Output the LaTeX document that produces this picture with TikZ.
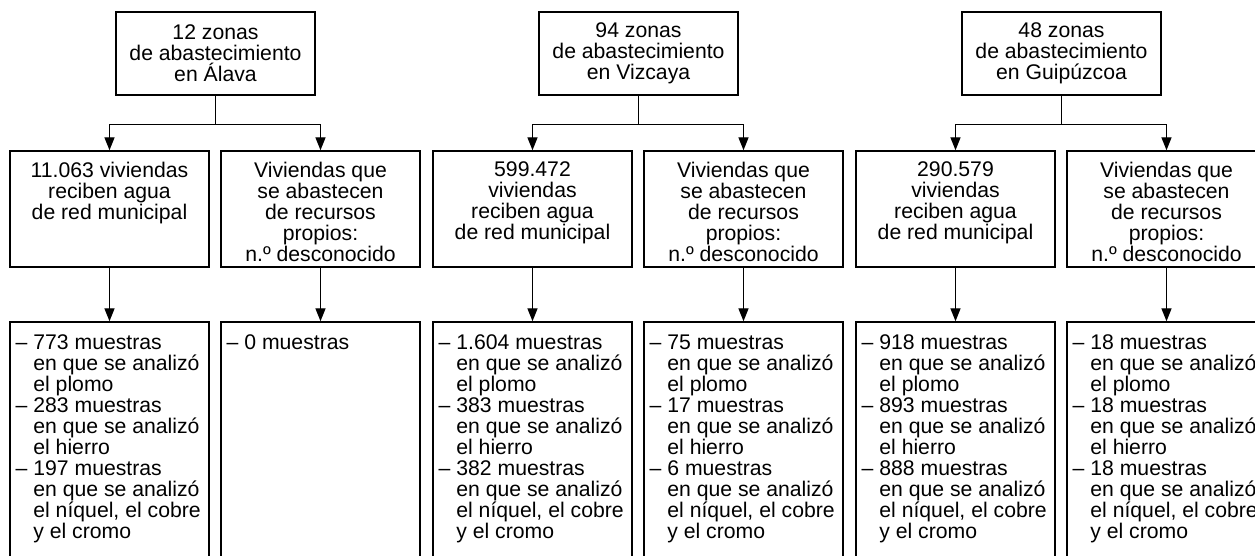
\documentclass[tikz,border=0pt]{standalone}
\usepackage{fontspec}
\setmainfont{Liberation Sans}
\usetikzlibrary{arrows.meta}
\newcommand{\sangria}{\phantom{– }}

\begin{document}
\begin{tikzpicture}[
		x=0.5pt, y=-0.5pt,
		font=\fontsize{10.6}{10.5}\selectfont,
		zona/.style={draw, line width=0.7pt, minimum width=99.5pt, minimum height=41.5pt, inner sep=0pt, align=center},
		vivienda/.style={draw, line width=0.7pt, minimum width=99.5pt, minimum height=58pt, inner sep=0pt},
		muestra/.style={draw, line width=0.7pt, minimum width=99.5pt, minimum height=149pt, inner sep=0pt},
		centrado/.style={inner sep=0pt, align=center, anchor=north},
		lista/.style={inner sep=0pt, align=left, anchor=north west},
		flecha/.style={->, line width=0.7pt, >={Triangle[length=6.5pt,width=5pt]}}
		]
		% Page frame (the lower boxes run off the page)
		\path[use as bounding box, clip] (0,0) rectangle (1255,556);
		
		% Alava
		\node[zona] (za) at (215.5,53.5) {12 zonas\\de abastecimiento\\en Álava};
		\node[vivienda] (va) at (109.5,209) {};
		\node[vivienda] (pa) at (320.5,209) {};
		\node[muestra] (ma) at (109.5,471) {};
		\node[muestra] (na) at (320.5,471) {};
		\node[centrado] (vat) at ([yshift=-5.5pt]va.north) {11.063 viviendas\\reciben agua\\de red municipal};
		\node[centrado] (pat) at ([yshift=-5.5pt]pa.north) {Viviendas que\\se abastecen\\de recursos\\propios:\\n.º desconocido};
		\node[lista] (mat) at ([xshift=3pt,yshift=-6.5pt]ma.north west) {– 773 muestras\\\sangria en que se analizó\\\sangria el plomo\\– 283 muestras\\\sangria en que se analizó\\\sangria el hierro\\– 197 muestras\\\sangria en que se analizó\\\sangria el níquel, el cobre\\\sangria y el cromo};
		\node[lista] (nat) at ([xshift=3pt,yshift=-6.5pt]na.north west) {– 0 muestras};
		\coordinate (ja) at ([yshift=-14.5pt]za.south);
		\draw[flecha] (za.south) -- (ja) -| (va.north);
		\draw[flecha] (za.south) -- (ja) -| (pa.north);
		\draw[flecha] (va.south) -- (ma.north);
		\draw[flecha] (pa.south) -- (na.north);
		
		% Vizcaya
		\node[zona] (zb) at (638.5,53.5) {94 zonas\\de abastecimiento\\en Vizcaya};
		\node[vivienda] (vb) at (532.5,209) {};
		\node[vivienda] (pb) at (743.5,209) {};
		\node[muestra] (mb) at (532.5,471) {};
		\node[muestra] (nb) at (743.5,471) {};
		\node[centrado] (vbt) at ([yshift=-5.5pt]vb.north) {599.472\\viviendas\\reciben agua\\de red municipal};
		\node[centrado] (pbt) at ([yshift=-5.5pt]pb.north) {Viviendas que\\se abastecen\\de recursos\\propios:\\n.º desconocido};
		\node[lista] (mbt) at ([xshift=3pt,yshift=-6.5pt]mb.north west) {– 1.604 muestras\\\sangria en que se analizó\\\sangria el plomo\\– 383 muestras\\\sangria en que se analizó\\\sangria el hierro\\– 382 muestras\\\sangria en que se analizó\\\sangria el níquel, el cobre\\\sangria y el cromo};
		\node[lista] (nbt) at ([xshift=3pt,yshift=-6.5pt]nb.north west) {– 75 muestras\\\sangria en que se analizó\\\sangria el plomo\\– 17 muestras\\\sangria en que se analizó\\\sangria el hierro\\– 6 muestras\\\sangria en que se analizó\\\sangria el níquel, el cobre\\\sangria y el cromo};
		\coordinate (jb) at ([yshift=-14.5pt]zb.south);
		\draw[flecha] (zb.south) -- (jb) -| (vb.north);
		\draw[flecha] (zb.south) -- (jb) -| (pb.north);
		\draw[flecha] (vb.south) -- (mb.north);
		\draw[flecha] (pb.south) -- (nb.north);
		
		% Guipuzcoa
		\node[zona] (zc) at (1061.5,53.5) {48 zonas\\de abastecimiento\\en Guipúzcoa};
		\node[vivienda] (vc) at (955.5,209) {};
		\node[vivienda] (pc) at (1166.5,209) {};
		\node[muestra] (mc) at (955.5,471) {};
		\node[muestra] (nc) at (1166.5,471) {};
		\node[centrado] (vct) at ([yshift=-5.5pt]vc.north) {290.579\\viviendas\\reciben agua\\de red municipal};
		\node[centrado] (pct) at ([yshift=-5.5pt]pc.north) {Viviendas que\\se abastecen\\de recursos\\propios:\\n.º desconocido};
		\node[lista] (mct) at ([xshift=3pt,yshift=-6.5pt]mc.north west) {– 918 muestras\\\sangria en que se analizó\\\sangria el plomo\\– 893 muestras\\\sangria en que se analizó\\\sangria el hierro\\– 888 muestras\\\sangria en que se analizó\\\sangria el níquel, el cobre\\\sangria y el cromo};
		\node[lista] (nct) at ([xshift=3pt,yshift=-6.5pt]nc.north west) {– 18 muestras\\\sangria en que se analizó\\\sangria el plomo\\– 18 muestras\\\sangria en que se analizó\\\sangria el hierro\\– 18 muestras\\\sangria en que se analizó\\\sangria el níquel, el cobre\\\sangria y el cromo};
		\coordinate (jc) at ([yshift=-14.5pt]zc.south);
		\draw[flecha] (zc.south) -- (jc) -| (vc.north);
		\draw[flecha] (zc.south) -- (jc) -| (pc.north);
		\draw[flecha] (vc.south) -- (mc.north);
		\draw[flecha] (pc.south) -- (nc.north);
\end{tikzpicture}
\end{document}
